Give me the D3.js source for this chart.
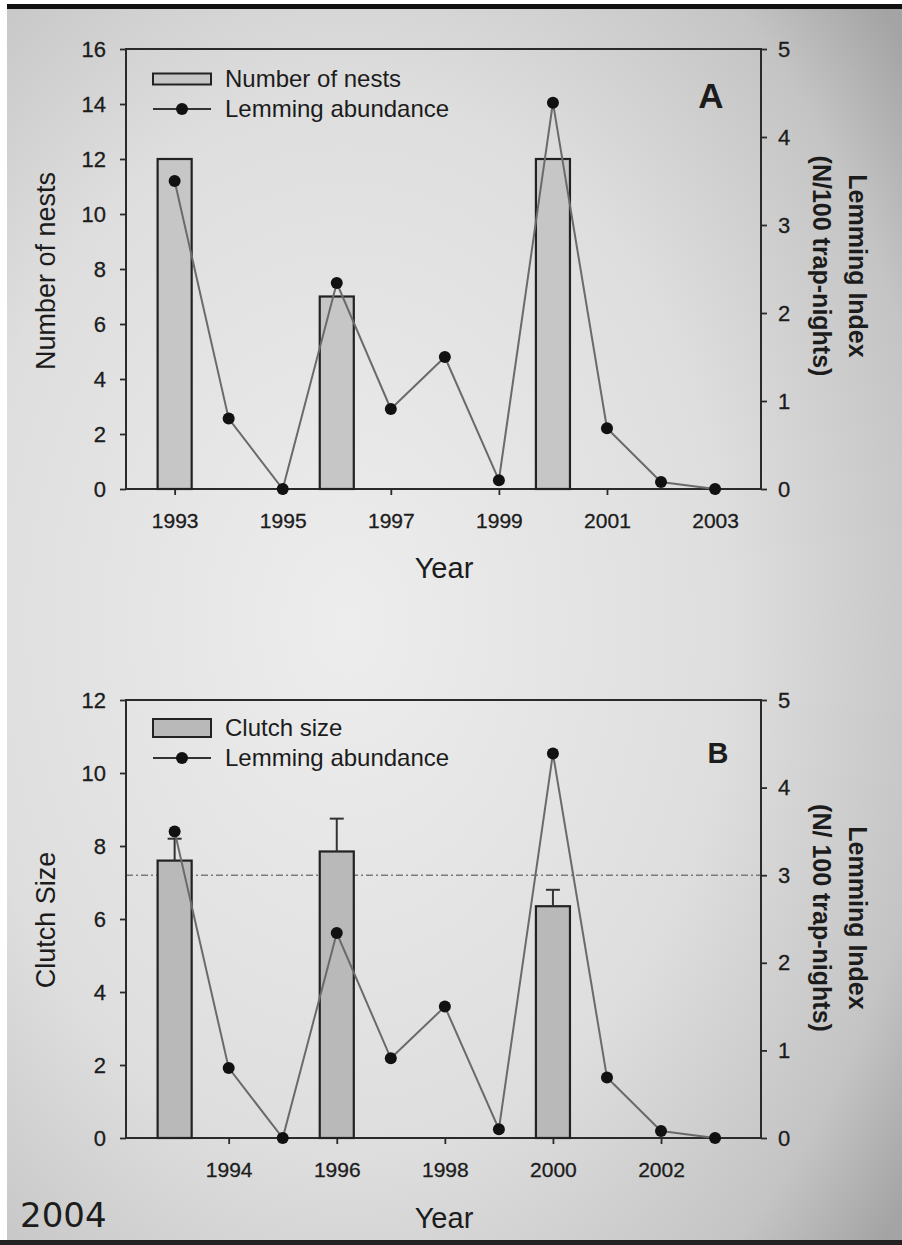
<!DOCTYPE html>
<html>
<head>
<meta charset="utf-8">
<script src="https://cdn.jsdelivr.net/npm/d3@7"></script>
<style>
  body { margin: 0; background: #fff; }
  svg text { font-family: "Liberation Sans", Arial, sans-serif; fill: #1c1c1c; }
</style>
</head>
<body>
<div class="figure"></div>
<script>
// data
const years = [1993, 1994, 1995, 1996, 1997, 1998, 1999, 2000, 2001, 2002, 2003];
const lemmingIndex = [3.5, 0.8, 0, 2.34, 0.91, 1.5, 0.1, 4.39, 0.69, 0.08, 0];

const nestYears = [1993, 1996, 2000];
const nestCounts = [12, 7, 12];

const clutchYears = [1993, 1996, 2000];
const clutchMeans = [7.6, 7.85, 6.35];
const clutchErrors = [0.6, 0.9, 0.45];
const lemmingThreshold = 3;

const yearTicksA = [1993, 1995, 1997, 1999, 2001, 2003];
const yearTicksB = [1994, 1996, 1998, 2000, 2002];
const nestTicks = [0, 2, 4, 6, 8, 10, 12, 14, 16];
const clutchTicks = [0, 2, 4, 6, 8, 10, 12];
const lemmingTicks = [0, 1, 2, 3, 4, 5];

const W = 902, H = 1245;
const Left = 126, Right = 761;

var svg = d3.select(".figure").append("svg")
    .attr("width", W)
    .attr("height", H);

// photographed page background
var defs = svg.append("defs");
var grad = defs.append("radialGradient")
    .attr("id", "paper")
    .attr("cx", "0.38").attr("cy", "0.5").attr("r", "0.78");
grad.append("stop").attr("offset", "0%").attr("stop-color", "#ededed");
grad.append("stop").attr("offset", "55%").attr("stop-color", "#dedede");
grad.append("stop").attr("offset", "85%").attr("stop-color", "#c4c4c4");
grad.append("stop").attr("offset", "100%").attr("stop-color", "#a4a4a4");

svg.append("rect").attr("x", 7).attr("y", 8).attr("width", W - 7).attr("height", 1232)
    .attr("fill", "url(#paper)");
svg.append("rect").attr("x", 7).attr("y", 4).attr("width", W - 7).attr("height", 5).attr("fill", "#111");
svg.append("rect").attr("x", 0).attr("y", 1240).attr("width", W).attr("height", 5).attr("fill", "#222");

// shared year scale
var x = d3.scaleLinear().domain([1992.1, 2003.85]).range([Left, Right]);
const halfBar = 0.315;

// draw one panel
function drawPanel(p) {
  var g = svg.append("g");
  var yL = d3.scaleLinear().domain(p.leftDomain).range([p.bottom, p.top]);
  var yR = d3.scaleLinear().domain([0, 5]).range([p.bottom, p.top]);

  // reference line (panel B)
  if (p.refLine != null) {
    g.append("line")
      .attr("x1", Left).attr("x2", Right)
      .attr("y1", yR(p.refLine)).attr("y2", yR(p.refLine))
      .attr("stroke", "#7a7a7a").attr("stroke-width", 1.4)
      .attr("stroke-dasharray", "7,3,2,3");
  }

  // frame
  g.append("rect")
    .attr("x", Left).attr("y", p.top)
    .attr("width", Right - Left).attr("height", p.bottom - p.top)
    .attr("fill", "none").attr("stroke", "#2a2a2a").attr("stroke-width", 2);

  // axes
  var axL = g.append("g").attr("transform", "translate(" + Left + ",0)")
    .call(d3.axisLeft(yL).tickValues(p.leftTicks).tickSize(6).tickPadding(14).tickFormat(d3.format("d")));
  var axR = g.append("g").attr("transform", "translate(" + Right + ",0)")
    .call(d3.axisRight(yR).tickValues(lemmingTicks).tickSize(6).tickPadding(11).tickFormat(d3.format("d")));
  var axB = g.append("g").attr("transform", "translate(0," + p.bottom + ")")
    .call(d3.axisBottom(x).tickValues(p.yearTicks).tickSize(6).tickPadding(18).tickFormat(d3.format("d")));
  [axL, axR, axB].forEach(function(a) {
    a.select(".domain").remove();
    a.selectAll("line").attr("stroke", "#2a2a2a").attr("stroke-width", 1.8);
    a.selectAll("text").style("font-size", "22px").style("fill", "#1c1c1c")
      .style("stroke", "#1c1c1c").style("stroke-width", 0.3)
      .style("font-family", "'Liberation Sans', Arial, sans-serif");
  });
  axB.selectAll("text").style("font-size", "21px");

  // bars
  g.selectAll(".bar").data(p.barYears)
    .enter().append("rect")
    .attr("class", "bar")
    .attr("x", d => x(d - halfBar))
    .attr("width", d => x(d + halfBar) - x(d - halfBar))
    .attr("y", (d, i) => yL(p.barValues[i]))
    .attr("height", (d, i) => yL(0) - yL(p.barValues[i]))
    .attr("fill", p.barFill).attr("stroke", "#222").attr("stroke-width", 2.2);

  // error bars
  if (p.barErrors) {
    p.barYears.forEach(function(d, i) {
      var top = yL(p.barValues[i] + p.barErrors[i]);
      g.append("line").attr("x1", x(d)).attr("x2", x(d))
        .attr("y1", yL(p.barValues[i])).attr("y2", top)
        .attr("stroke", "#333").attr("stroke-width", 2);
      g.append("line").attr("x1", x(d) - 7).attr("x2", x(d) + 7)
        .attr("y1", top).attr("y2", top)
        .attr("stroke", "#333").attr("stroke-width", 2);
    });
  }

  // lemming line
  var pts = years.map((yr, i) => [yr, lemmingIndex[i]]);
  var line = d3.line().x(d => x(d[0])).y(d => yR(d[1]));
  g.append("path").datum(pts)
    .attr("d", line)
    .attr("fill", "none").attr("stroke", "#6a6a6a").attr("stroke-width", 2);
  g.selectAll(".dot").data(pts)
    .enter().append("circle")
    .attr("class", "dot")
    .attr("cx", d => x(d[0])).attr("cy", d => yR(d[1]))
    .attr("r", 6).attr("fill", "#111");

  // legend
  g.append("rect")
    .attr("x", 153).attr("y", p.legendY - p.legendBoxH / 2)
    .attr("width", 58).attr("height", p.legendBoxH)
    .attr("fill", p.barFill).attr("stroke", "#222").attr("stroke-width", 2);
  g.append("text").attr("x", 225).attr("y", p.legendY + 8)
    .style("font-size", "24px").text(p.barLabel);
  var ly2 = p.legendY + p.legendGap;
  g.append("line").attr("x1", 153).attr("x2", 211).attr("y1", ly2).attr("y2", ly2)
    .attr("stroke", "#333").attr("stroke-width", 1.8);
  g.append("circle").attr("cx", 182).attr("cy", ly2).attr("r", 6).attr("fill", "#111");
  g.append("text").attr("x", 225).attr("y", ly2 + 8)
    .style("font-size", "24px").text("Lemming abundance");

  // panel letter
  g.append("text").attr("x", p.letterX).attr("y", p.letterY)
    .attr("text-anchor", "middle")
    .style("font-size", p.letterSize).style("font-weight", "bold")
    .text(p.letter);

  // axis titles
  g.append("text")
    .attr("transform", "translate(46," + p.leftTitleY + ") rotate(-90)")
    .attr("text-anchor", "middle").attr("dominant-baseline", "central")
    .style("font-size", "27px")
    .text(p.leftTitle);
  g.append("text")
    .attr("transform", "translate(858," + p.rightTitleY + ") rotate(90)")
    .attr("text-anchor", "middle").attr("dominant-baseline", "central")
    .style("font-size", "25px").style("font-weight", "bold")
    .text("Lemming Index");
  g.append("text")
    .attr("transform", "translate(822," + p.rightTitleY + ") rotate(90)")
    .attr("text-anchor", "middle").attr("dominant-baseline", "central")
    .style("font-size", "25px").style("font-weight", "bold")
    .text(p.rightSub);
  g.append("text")
    .attr("x", 444).attr("y", p.yearY)
    .attr("text-anchor", "middle")
    .style("font-size", "29px")
    .text("Year");
}

drawPanel({
  top: 49, bottom: 489,
  leftDomain: [0, 16], leftTicks: nestTicks, yearTicks: yearTicksA,
  barYears: nestYears, barValues: nestCounts, barErrors: null,
  barFill: "#c6c6c6", barLabel: "Number of nests",
  legendY: 79, legendBoxH: 11, legendGap: 30,
  letter: "A", letterX: 711, letterY: 108, letterSize: "35px",
  leftTitle: "Number of nests", leftTitleY: 271,
  rightSub: "(N/100 trap-nights)", rightTitleY: 266,
  yearY: 578, refLine: null
});

drawPanel({
  top: 700, bottom: 1138,
  leftDomain: [0, 12], leftTicks: clutchTicks, yearTicks: yearTicksB,
  barYears: clutchYears, barValues: clutchMeans, barErrors: clutchErrors,
  barFill: "#b9b9b9", barLabel: "Clutch size",
  legendY: 728, legendBoxH: 18, legendGap: 30,
  letter: "B", letterX: 718, letterY: 763, letterSize: "29px",
  leftTitle: "Clutch Size", leftTitleY: 920,
  rightSub: "(N/ 100 trap-nights)", rightTitleY: 918,
  yearY: 1228, refLine: lemmingThreshold
});

// year stamp in the corner
svg.append("text")
  .attr("x", 20).attr("y", 1227)
  .style("font-family", "'DejaVu Sans', sans-serif")
  .style("font-size", "34px")
  .text("2004");
</script>
</body>
</html>
